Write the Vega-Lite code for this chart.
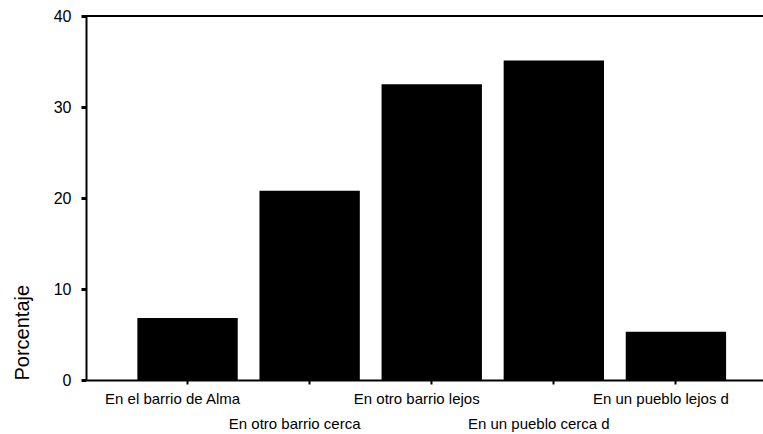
{
  "$schema": "https://vega.github.io/schema/vega-lite/v6.json",
  "width": 677,
  "height": 364,
  "autosize": "none",
  "padding": {"left": 86, "top": 16, "right": 0, "bottom": 54},
  "background": "white",
  "config": {"view": {"stroke": null}, "font": "Liberation Sans"},
  "data": {
    "values": [
      {"destino": "En el barrio de Alma", "porcentaje": 6.8},
      {"destino": "En otro barrio cerca", "porcentaje": 20.8},
      {"destino": "En otro barrio lejos", "porcentaje": 32.5},
      {"destino": "En un pueblo cerca d", "porcentaje": 35.1},
      {"destino": "En un pueblo lejos d", "porcentaje": 5.3}
    ]
  },
  "layer": [
    {
      "mark": {"type": "bar", "color": "black"},
      "encoding": {
        "x": {
          "field": "destino",
          "type": "nominal",
          "sort": null,
          "scale": {"paddingInner": 0.178, "paddingOuter": 0.3615, "align": 0.582},
          "axis": {
            "title": null,
            "labelAngle": 0,
            "labelFont": "Liberation Sans",
            "labelFontSize": 15,
            "labelColor": "black",
            "labelOffset": -15,
            "labelPadding": 7,
            "labelBaseline": "top",
            "labelLineHeight": 25.5,
            "labelOverlap": false,
            "labelLimit": 0,
            "labelBound": false,
            "labelExpr": "datum.value == 'En otro barrio cerca' || datum.value == 'En un pueblo cerca d' ? ['', datum.label] : datum.label",
            "tickSize": 4,
            "tickWidth": 2,
            "tickColor": "black",
            "domainColor": "black",
            "domainWidth": 2
          }
        },
        "y": {
          "field": "porcentaje",
          "type": "quantitative",
          "scale": {"domain": [0, 40], "nice": false},
          "axis": {
            "title": "Porcentaje",
            "titleFont": "Liberation Sans",
            "titleFontSize": 20,
            "titleFontWeight": "normal",
            "titleColor": "black",
            "titleAnchor": "start",
            "titlePadding": 21,
            "values": [0, 10, 20, 30, 40],
            "grid": false,
            "tickSize": 5,
            "tickWidth": 3,
            "tickColor": "black",
            "labelFont": "Liberation Sans",
            "labelFontSize": 16,
            "labelColor": "black",
            "labelPadding": 10,
            "domainColor": "black",
            "domainWidth": 2
          }
        }
      }
    },
    {
      "mark": {"type": "rule", "color": "black", "strokeWidth": 2},
      "encoding": {"y": {"datum": 40}}
    }
  ]
}
